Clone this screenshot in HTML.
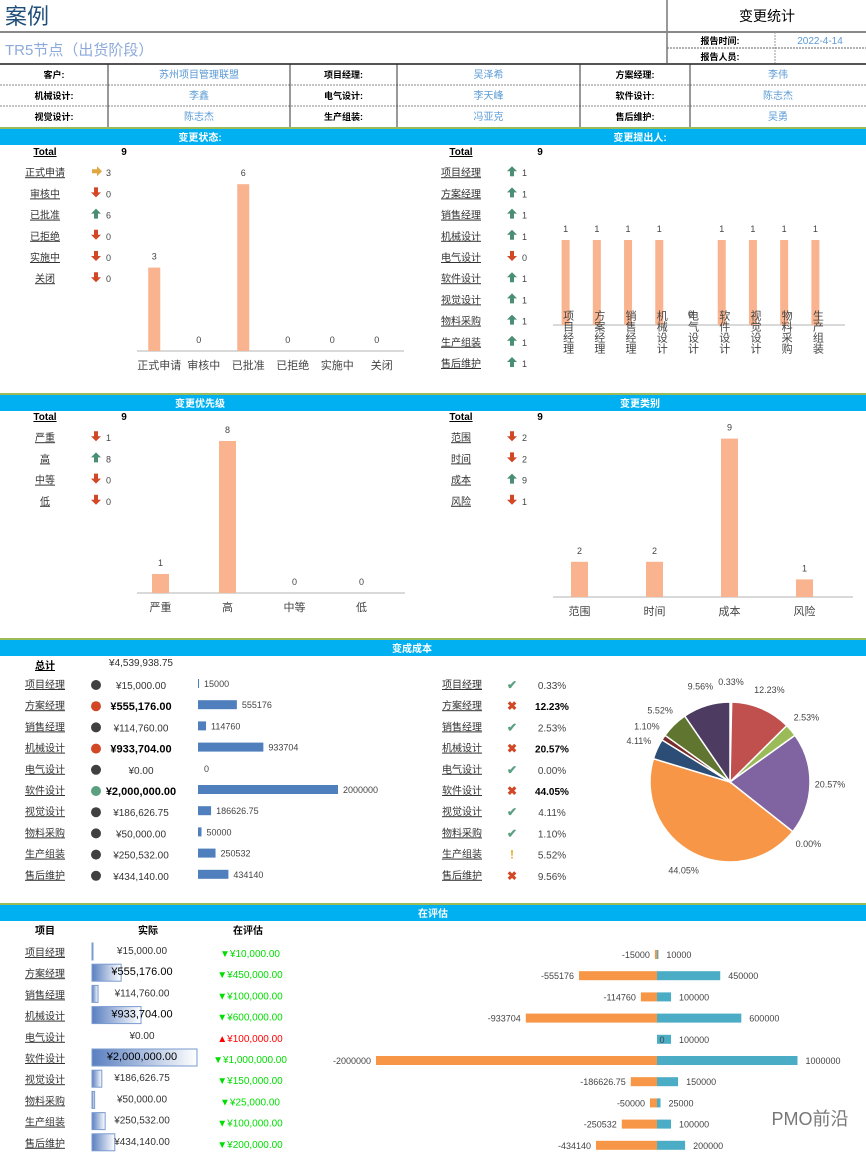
<!DOCTYPE html>
<html><head><meta charset="utf-8"><style>
html,body{margin:0;padding:0;background:#fff;width:866px;height:1155px;overflow:hidden}
svg{display:block;font-family:"Liberation Sans","Noto Sans CJK SC",sans-serif}
</style></head><body>
<svg id="s" width="866" height="1155" viewBox="0 0 866 1155">
<defs><linearGradient id="db" x1="0" x2="1"><stop offset="0" stop-color="#5a7fc0"/><stop offset="1" stop-color="#ffffff"/></linearGradient></defs>
</svg>
<script>
const statusCats=['正式申请','审核中','已批准','已拒绝','实施中','关闭'];
const statusVals=[3,0,6,0,0,0];
const proposerCats=['项目经理','方案经理','销售经理','机械设计','电气设计','软件设计','视觉设计','物料采购','生产组装','售后维护'];
const proposerVals=[1,1,1,1,0,1,1,1,1,1];
const chartProposerCats=['项目经理','方案经理','销售经理','机械设计','电气设计','软件设计','视觉设计','物料采购','生产组装'];
const chartProposerVals=[1,1,1,1,0,1,1,1,1];
const priorityCats=['严重','高','中等','低'];
const priorityVals=[1,8,0,0];
const typeCats=['范围','时间','成本','风险'];
const typeVals=[2,2,9,1];
const listTotals=[9,9,9,9];
const costCats=['项目经理','方案经理','销售经理','机械设计','电气设计','软件设计','视觉设计','物料采购','生产组装','售后维护'];
const costVals=[15000,555176,114760,933704,0,2000000,186626.75,50000,250532,434140];
const evalVals=[10000,450000,100000,600000,100000,1000000,150000,25000,100000,200000];
const pieColors=['#4f81bd','#c0504d','#9bbb59','#8064a2','#4bacc6','#f79646','#2c4d75','#772c2a','#5f7530','#4d3b62'];

const S=document.getElementById('s');const NS='http://www.w3.org/2000/svg';
function E(tag,a,name,inter){const e=document.createElementNS(NS,tag);for(const k in a)e.setAttribute(k,a[k]);


S.appendChild(e);return e;}
function T(x,y,s,name,o){o=o||{};const e=E('text',{x:x,y:y,'font-size':o.sz||10,fill:o.c||'#333','text-anchor':o.a||'middle','font-weight':o.b?'bold':'normal'},name,o.i);
if(o.u)e.setAttribute('text-decoration','underline');if(o.v){e.setAttribute('writing-mode','tb');}e.textContent=s;return e;}
function R(x,y,w,h,f,name,o){o=o||{};const e=E('rect',{x:x,y:y,width:w,height:h,fill:f},name,false);if(o.st){e.setAttribute('stroke',o.st);e.setAttribute('stroke-width',o.sw||1);}return e;}
function L(x1,y1,x2,y2,c,name,w,d){const e=E('line',{x1:x1,y1:y1,x2:x2,y2:y2,stroke:c,'stroke-width':w||1},name,false);if(d)e.setAttribute('stroke-dasharray',d);return e;}
function fmt(v){return '¥'+v.toLocaleString('en-US',{minimumFractionDigits:2,maximumFractionDigits:2});}

T(5,24,'案例','report-title',{sz:22,c:'#1f4e79',a:'start'});
T(5,55,'TR5节点（出货阶段）','stage-subtitle',{sz:15,c:'#8eaadb',a:'start'});
L(667,0,667,64,'#333','header-divider');
T(767,21,'变更统计','summary-title',{sz:14,c:'#000'});
L(0,32,866,32,'#888','header-rule',2);
L(775,32,775,64,'#999','time-divider',1,'2,1');
L(667,48,866,48,'#666','report-row-line',1,'2,1');
T(720,44,'报告时间:','report-time-label',{sz:9,b:1,c:'#000'});
T(820,44,'2022-4-14','report-time-value',{sz:10,c:'#5b9bd5'});
T(720,60,'报告人员:','reporter-label',{sz:9,b:1,c:'#000'});
L(0,64,866,64,'#555','info-top-rule',2);
const info=[['客户:','苏州项目管理联盟','项目经理:','吴泽希','方案经理:','李伟'],['机械设计:','李鑫','电气设计:','李天峰','软件设计:','陈志杰'],['视觉设计:','陈志杰','生产组装:','冯亚克','售后维护:','吴勇']];
const colB=[0,108,290,397,580,690,866];
info.forEach((r,i)=>{const y=64+i*21;if(i>0)L(0,y,866,y,'#888','info-row-line',1,'2,1');
 r.forEach((t,j)=>{const cx=(colB[j]+colB[j+1])/2;T(cx,y+14,t,j%2?'info-value':'info-label',{sz:j%2?10:9,b:j%2?0:1,c:j%2?'#5b9bd5':'#000'});});});
colB.slice(1,6).forEach(x=>L(x,64,x,127,'#333','info-col-line'));

function band(y,titles,name){R(0,y,866,2,'#9bbb59',name+'-accent');R(0,y+2,866,16,'#00b0f0',name+'-band');
 titles.forEach(t=>T(t[0],y+14,t[1],name+'-title',{sz:10,b:1,c:'#fff'}));}
band(127,[[200,'变更状态:'],[640,'变更提出人:']],'status-section');
band(393,[[200,'变更优先级'],[640,'变更类别']],'priority-section');
band(638,[[412,'变成成本']],'cost-section');
band(903,[[433,'在评估']],'reeval-section');

function icon(x,y,v,max,name){const r=max?v/max:0;
 if(r>=0.67){E('path',{d:`M${x} ${y-6}l5 5h-3v5h-4v-5h-3z`,fill:'#4a8f73'},name,false);}
 else if(r>=0.33){E('path',{d:`M${x+6} ${y-1}l-5 -5v3h-5v4h5v3z`,fill:'#e0a640'},name,false);}
 else{E('path',{d:`M${x} ${y+4}l5 -5h-3v-5h-4v5h-3z`,fill:'#d24726'},name,false);}}
function list(x,xi,xv,y0,dy,cats,vals,tot,name){const mx=Math.max(...vals);
 T(x,y0+4,'Total',name+'-total-label',{sz:10,b:1,c:'#000',u:1,i:1});T(xv+18,y0+4,tot,name+'-total-value',{sz:10,b:1,c:'#000'});
 cats.forEach((c,i)=>{const y=y0+dy*(i+1);T(x,y+4,c,name+'-item',{sz:10,c:'#333',u:1,i:1});icon(xi,y,vals[i],mx,name+'-icon');T(xv,y+4,vals[i],name+'-count',{sz:9,c:'#444',a:'start'});});}
list(45,96,106,151,21.2,statusCats,statusVals,listTotals[0],'status-list');
list(461,512,522,151,21.2,proposerCats,proposerVals,listTotals[1],'proposer-list');
list(45,96,106,416,21.2,priorityCats,priorityVals,listTotals[2],'priority-list');
list(461,512,522,416,21.2,typeCats,typeVals,listTotals[3],'type-list');

function bars(cats,vals,x0,x1,base,ppu,bw,off,ax0,ax1,name,vert){const band=(x1-x0)/cats.length;
 L(ax0,base,ax1,base,'#d9d9d9',name+'-axis',2);
 cats.forEach((c,i)=>{const cx=x0+band*(i+0.5),h=vals[i]*ppu;
  R(cx+off-bw/2,base-h,bw,h,'#f9b48f',name+'-bar');T(cx+off,base-h-8,vals[i],name+'-value',{sz:9,c:'#444'});
  if(vert)T(cx+2,base+7,c,name+'-cat-label',{sz:11,c:'#444',v:1});else T(cx,base+18,c,name+'-cat-label',{sz:11,c:'#444'});});}
bars(statusCats,statusVals,137,404,351,27.8,12,-5,137,404,'status-chart');
bars(chartProposerCats,chartProposerVals,550,831,325,85,8,0,553,845,'proposer-chart',true);
bars(priorityCats,priorityVals,127,395,593,19,17,0,137,405,'priority-chart');
bars(typeCats,typeVals,542,842,597,17.6,17,0,553,853,'type-chart');

const ctot=costVals.reduce((a,b)=>a+b,0);
T(45,669,'总计','cost-total-label',{sz:10,b:1,c:'#000',u:1});T(141,666,fmt(ctot),'cost-total-value',{sz:10,c:'#333'});
costCats.forEach((c,i)=>{const y=684+i*21.2,p=costVals[i]/ctot*100;
 T(45,y+4,c,'cost-item',{sz:10,c:'#333',u:1,i:1});
 E('circle',{cx:96,cy:y+1,r:5,fill:p>=40?'#5a9f7f':p>=10?'#d24726':'#404040'},'cost-status-dot',false);
 T(141,y+5,fmt(costVals[i]),'cost-amount',{sz:p>=10?11:10,b:p>=10,c:p>=10?'#000':'#333'});
 const w=costVals[i]/2000000*140;if(w>0)R(198,y-5,w,9,'#4f7fbd','cost-bar',{});
 T(198+w+(w?5:6),y+3,costVals[i],'cost-bar-label',{sz:9,c:'#444',a:'start'});
 T(462,y+4,c,'cost-pct-item',{sz:10,c:'#333',u:1,i:1});
 const ic=p>=9?['✖','#d24726']:p>=5?['!','#e0b030']:['✔','#5a9f7f'];T(512,y+5,ic[0],'cost-pct-icon',{sz:12,b:1,c:ic[1]});
 T(552,y+5,p.toFixed(2)+'%','cost-pct',{sz:10,b:p>=10,c:p>=10?'#000':'#444'});});
{const cx=730,cy=782,r=80;let a=-Math.PI/2;
 costVals.forEach((v,i)=>{const f=v/ctot,a2=a+f*2*Math.PI;
  if(f>0){const lg=f>0.5?1:0;E('path',{d:`M${cx} ${cy}L${cx+r*Math.cos(a)} ${cy+r*Math.sin(a)}A${r} ${r} 0 ${lg} 1 ${cx+r*Math.cos(a2)} ${cy+r*Math.sin(a2)}Z`,fill:pieColors[i],stroke:'#fff','stroke-width':1.5},'pie-slice',false);}
  const m=(a+a2)/2,lr=r+20;T(cx+lr*Math.cos(m),cy+lr*Math.sin(m)+3,(f*100).toFixed(2)+'%','pie-label',{sz:9,c:'#444'});a=a2;});}

T(45,934,'项目','col-item-header',{sz:10,b:1,c:'#000'});T(148,934,'实际','col-actual-header',{sz:10,b:1,c:'#000'});T(248,934,'在评估','col-reeval-header',{sz:10,b:1,c:'#000'});
costCats.forEach((c,i)=>{const y=952+i*21.2,v=costVals[i],ev=evalVals[i];
 T(45,y+4,c,'reeval-item',{sz:10,c:'#333',u:1,i:1});
 const w=v/2000000*105;if(w>0)R(92,y-9,Math.max(w,1),17,'url(#db)','actual-databar',{st:'#7a9bd0'});
 T(142,y+2,fmt(v),'actual-amount',{sz:v>=500000?11:10,c:v>=500000?'#000':'#333'});
 const up=ev>v;T(250,y+5,(up?'▲':'▼')+fmt(ev),'reeval-amount',{sz:10,c:up?'#ff0000':'#00dd00'});
 const cx=657,k=140.5/1000000,wl=v*k,wr=ev*k,by=y-2;
 if(wl>0)R(cx-wl,by,wl,9,'#f79646','butterfly-actual-bar');R(cx,by,wr,9,'#4bacc6','butterfly-reeval-bar');
 T(cx-wl-5,by+8,v?('-'+v):'0',v?'butterfly-actual-label':'butterfly-zero-label',{sz:9,c:'#444',a:v?'end':'middle'});
 if(!v){S.lastChild.setAttribute('x',cx+5);}
 T(cx+wr+8,by+8,ev,'butterfly-reeval-label',{sz:9,c:'#444',a:'start'});});
T(810,1125,'PMO前沿','watermark',{sz:18,c:'#777'});
</script>
</body></html>
